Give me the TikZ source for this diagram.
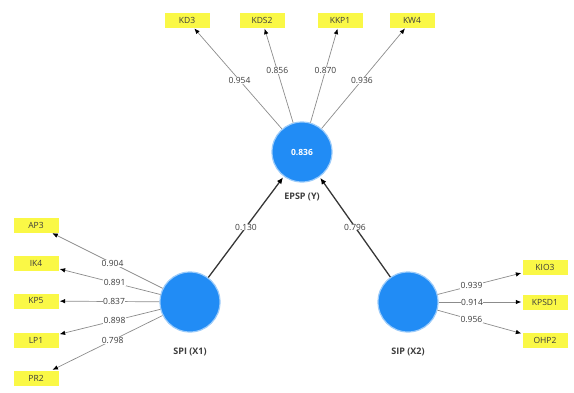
\documentclass[tikz,border=0pt]{standalone}
\usepackage{fontspec}
\setmainfont{Open Sans}
\usetikzlibrary{arrows.meta}
\definecolor{indfill}{RGB}{250,248,70}
\definecolor{latfill}{RGB}{33,140,245}
\definecolor{loadline}{RGB}{140,140,140}
\definecolor{pathline}{RGB}{55,55,55}
\definecolor{txt}{RGB}{60,60,60}
\tikzset{
  indicator/.style={fill=indfill, draw=none, minimum width=45pt, minimum height=15pt,
    inner sep=0pt, font=\fontsize{8.5}{9}\selectfont, text=txt},
  latent/.style={circle, fill=latfill, draw=latfill!45!white, line width=1.2pt,
    minimum size=60pt, inner sep=0pt, font=\bfseries\fontsize{8.5}{9}\selectfont, text=white},
  latlabel/.style={font=\bfseries\fontsize{9}{10}\selectfont, text=txt},
  loading/.style={draw=loadline, line width=0.7pt, -{Latex[length=5.5pt,width=4.5pt,color=black]}, shorten >=1pt},
  pathcoef/.style={draw=pathline, line width=1.3pt, -{Latex[length=6.5pt,width=5.5pt,color=black]}, shorten >=1pt},
  coef/.style={fill=white, inner sep=0.3pt, font=\fontsize{8.5}{9}\selectfont, text=txt}
}
\begin{document}
\begin{tikzpicture}[x=1pt,y=-1pt]
\useasboundingbox (0,0) rectangle (574,392);

% latent constructs
\node[latent] (Y)  at (302,152) {0.836};
\node[latent] (X1) at (190,302) {};
\node[latent] (X2) at (408,302) {};
\node[latlabel] (lY)  at (302,197) {EPSP (Y)};
\node[latlabel] (lX1) at (190,352) {SPI (X1)};
\node[latlabel] (lX2) at (408,352) {SIP (X2)};

% indicators of EPSP
\node[indicator] (KD3)  at (187,20) {KD3};
\node[indicator] (KDS2) at (262,20) {KDS2};
\node[indicator] (KKP1) at (340,20) {KKP1};
\node[indicator] (KW4)  at (412,20) {KW4};

% indicators of SPI
\node[indicator] (AP3) at (36,225) {AP3};
\node[indicator] (IK4) at (36,263) {IK4};
\node[indicator] (KP5) at (36,301) {KP5};
\node[indicator] (LP1) at (36,340) {LP1};
\node[indicator] (PR2) at (36,378) {PR2};

% indicators of SIP
\node[indicator] (KIO3)  at (545,267) {KIO3};
\node[indicator] (KPSD1) at (545,302) {KPSD1};
\node[indicator] (OHP2)  at (545,340) {OHP2};

% outer loadings of EPSP
\draw[loading] (Y) -- node[coef, pos=0.48] {0.954} (KD3);
\draw[loading] (Y) -- node[coef, pos=0.55] {0.856} (KDS2);
\draw[loading] (Y) -- node[coef, pos=0.55] {0.870} (KKP1);
\draw[loading] (Y) -- node[coef, pos=0.48] {0.936} (KW4);

% outer loadings of SPI
\draw[loading] (X1) -- node[coef, pos=0.45] {0.904} (AP3);
\draw[loading] (X1) -- node[coef, pos=0.45] {0.891} (IK4);
\draw[loading] (X1) -- node[coef, pos=0.45] {0.837} (KP5);
\draw[loading] (X1) -- node[coef, pos=0.45] {0.898} (LP1);
\draw[loading] (X1) -- node[coef, pos=0.45] {0.798} (PR2);

% outer loadings of SIP
\draw[loading] (X2) -- node[coef, pos=0.4] {0.939} (KIO3);
\draw[loading] (X2) -- node[coef, pos=0.4] {0.914} (KPSD1);
\draw[loading] (X2) -- node[coef, pos=0.4] {0.956} (OHP2);

% structural paths
\draw[pathcoef] (X1) -- node[coef, pos=0.5] {0.130} (Y);
\draw[pathcoef] (X2) -- node[coef, pos=0.5] {0.796} (Y);
\end{tikzpicture}
\end{document}
